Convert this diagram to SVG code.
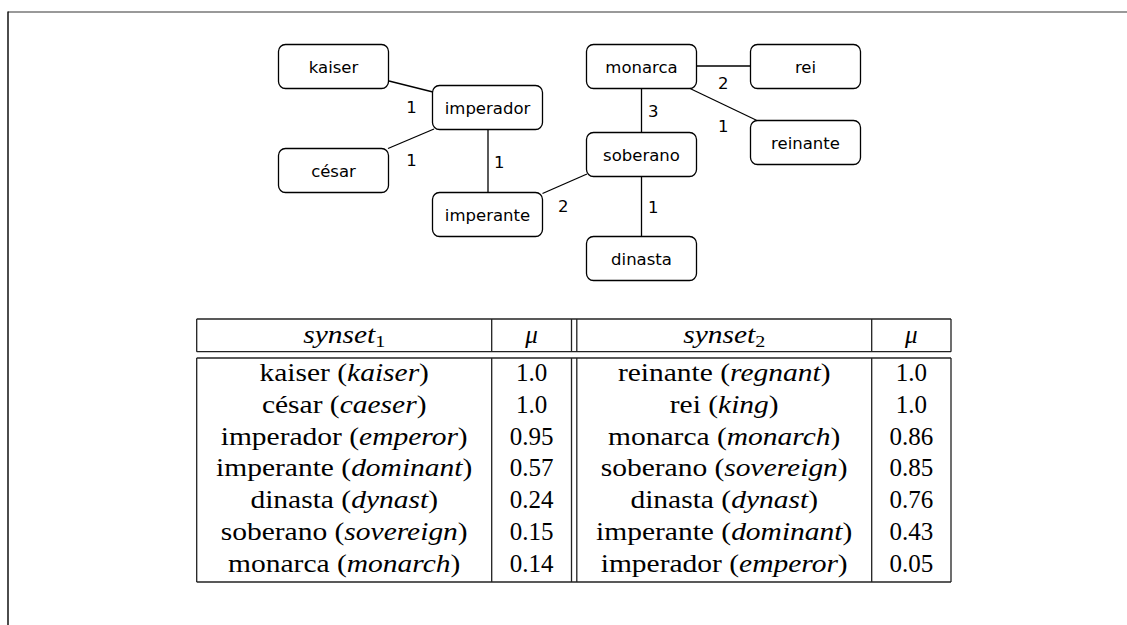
<svg xmlns="http://www.w3.org/2000/svg" width="1127" height="625" viewBox="0 0 1127 625">
<style>
.node rect{fill:#fff;stroke:#000;stroke-width:1.3}
.node text{font-family:"DejaVu Sans",sans-serif;font-size:16.5px;text-anchor:middle;fill:#000}
.edges line{stroke:#000;stroke-width:1.3}
.lbl{font-family:"DejaVu Sans",sans-serif;font-size:16.5px;text-anchor:middle;fill:#000}
.tl{stroke:#222;stroke-width:1.3;fill:none}
.tt{font-family:"Liberation Serif","Times New Roman",serif;font-size:25px;text-anchor:middle;fill:#000}
.it{font-style:italic}
</style>
<rect width="1127" height="625" fill="#fff"/>
<line x1="8" y1="12" x2="1127" y2="12" stroke="#777" stroke-width="1.4"/>
<line x1="8" y1="11.5" x2="8" y2="625" stroke="#000" stroke-width="1.4"/>

<g class="edges" id="connectors">
<line x1="389" y1="81" x2="433" y2="92"/>
<line x1="388" y1="148.5" x2="434" y2="129"/>
<line x1="488" y1="129.5" x2="488" y2="192.5"/>
<line x1="542.5" y1="193.5" x2="587" y2="174"/>
<line x1="696.5" y1="66" x2="750.5" y2="66"/>
<line x1="690" y1="88.5" x2="757" y2="120.5"/>
<line x1="641.5" y1="88.5" x2="641.5" y2="132.5"/>
<line x1="641.5" y1="176.5" x2="641.5" y2="236.5"/>
<text class="lbl" x="411.5" y="112.7">1</text>
<text class="lbl" x="411.5" y="166">1</text>
<text class="lbl" x="499.3" y="168">1</text>
<text class="lbl" x="563.3" y="211.7">2</text>
<text class="lbl" x="723.3" y="89.3">2</text>
<text class="lbl" x="653.3" y="116.7">3</text>
<text class="lbl" x="723.3" y="131.7">1</text>
<text class="lbl" x="653.3" y="213.3">1</text>
</g>

<g class="node" id="kaiser"><rect x="278.5" y="44.5" width="110" height="44" rx="7"/><text x="333.5" y="73">kaiser</text></g>
<g class="node" id="imperador"><rect x="432.5" y="85.5" width="110" height="44" rx="7"/><text x="487.5" y="114">imperador</text></g>
<g class="node" id="cesar"><rect x="278.5" y="148.5" width="110" height="44" rx="7"/><text x="333.5" y="177">césar</text></g>
<g class="node" id="imperante"><rect x="432.5" y="192.5" width="110" height="44" rx="7"/><text x="487.5" y="221">imperante</text></g>
<g class="node" id="monarca"><rect x="586.5" y="44.5" width="110" height="44" rx="7"/><text x="641.5" y="73">monarca</text></g>
<g class="node" id="rei"><rect x="750.5" y="44.5" width="110" height="44" rx="7"/><text x="805.5" y="73">rei</text></g>
<g class="node" id="soberano"><rect x="586.5" y="132.5" width="110" height="44" rx="7"/><text x="641.5" y="161">soberano</text></g>
<g class="node" id="reinante"><rect x="750.5" y="120.5" width="110" height="44" rx="7"/><text x="805.5" y="149">reinante</text></g>
<g class="node" id="dinasta"><rect x="586.5" y="236.5" width="110" height="44" rx="7"/><text x="641.5" y="265">dinasta</text></g>

<g id="table">
<line class="tl" x1="196.7" y1="319" x2="951" y2="319"/>
<line class="tl" x1="196.7" y1="351.7" x2="951" y2="351.7"/>
<line class="tl" x1="196.7" y1="358" x2="951" y2="358"/>
<line class="tl" x1="196.7" y1="582" x2="951" y2="582"/>
<path class="tl" d="M196.7 319V351.7M491.7 319V351.7M571.5 319V351.7M576.8 319V351.7M871.7 319V351.7M951 319V351.7"/>
<path class="tl" d="M196.7 358V582M491.7 358V582M571.5 358V582M576.8 358V582M871.7 358V582M951 358V582"/>

<g transform="translate(344.2,0) scale(1.18,1)">
<text class="tt" x="0" y="342.7"><tspan class="it">synset</tspan><tspan font-size="17" dy="4">1</tspan></text>
<text class="tt" x="0" y="381">kaiser (<tspan class="it">kaiser</tspan>)</text>
<text class="tt" x="0" y="412.8">césar (<tspan class="it">caeser</tspan>)</text>
<text class="tt" x="0" y="444.6">imperador (<tspan class="it">emperor</tspan>)</text>
<text class="tt" x="0" y="476.4">imperante (<tspan class="it">dominant</tspan>)</text>
<text class="tt" x="0" y="508.2">dinasta (<tspan class="it">dynast</tspan>)</text>
<text class="tt" x="0" y="540">soberano (<tspan class="it">sovereign</tspan>)</text>
<text class="tt" x="0" y="571.8">monarca (<tspan class="it">monarch</tspan>)</text>
</g>
<g transform="translate(531.5,0)">
<text class="tt it" x="0" y="342.7">μ</text>
<text class="tt" x="0" y="381">1.0</text>
<text class="tt" x="0" y="412.8">1.0</text>
<text class="tt" x="0" y="444.6">0.95</text>
<text class="tt" x="0" y="476.4">0.57</text>
<text class="tt" x="0" y="508.2">0.24</text>
<text class="tt" x="0" y="540">0.15</text>
<text class="tt" x="0" y="571.8">0.14</text>
</g>
<g transform="translate(724.2,0) scale(1.18,1)">
<text class="tt" x="0" y="342.7"><tspan class="it">synset</tspan><tspan font-size="17" dy="4">2</tspan></text>
<text class="tt" x="0" y="381">reinante (<tspan class="it">regnant</tspan>)</text>
<text class="tt" x="0" y="412.8">rei (<tspan class="it">king</tspan>)</text>
<text class="tt" x="0" y="444.6">monarca (<tspan class="it">monarch</tspan>)</text>
<text class="tt" x="0" y="476.4">soberano (<tspan class="it">sovereign</tspan>)</text>
<text class="tt" x="0" y="508.2">dinasta (<tspan class="it">dynast</tspan>)</text>
<text class="tt" x="0" y="540">imperante (<tspan class="it">dominant</tspan>)</text>
<text class="tt" x="0" y="571.8">imperador (<tspan class="it">emperor</tspan>)</text>
</g>
<g transform="translate(911.3,0)">
<text class="tt it" x="0" y="342.7">μ</text>
<text class="tt" x="0" y="381">1.0</text>
<text class="tt" x="0" y="412.8">1.0</text>
<text class="tt" x="0" y="444.6">0.86</text>
<text class="tt" x="0" y="476.4">0.85</text>
<text class="tt" x="0" y="508.2">0.76</text>
<text class="tt" x="0" y="540">0.43</text>
<text class="tt" x="0" y="571.8">0.05</text>
</g>
</g>
</svg>
